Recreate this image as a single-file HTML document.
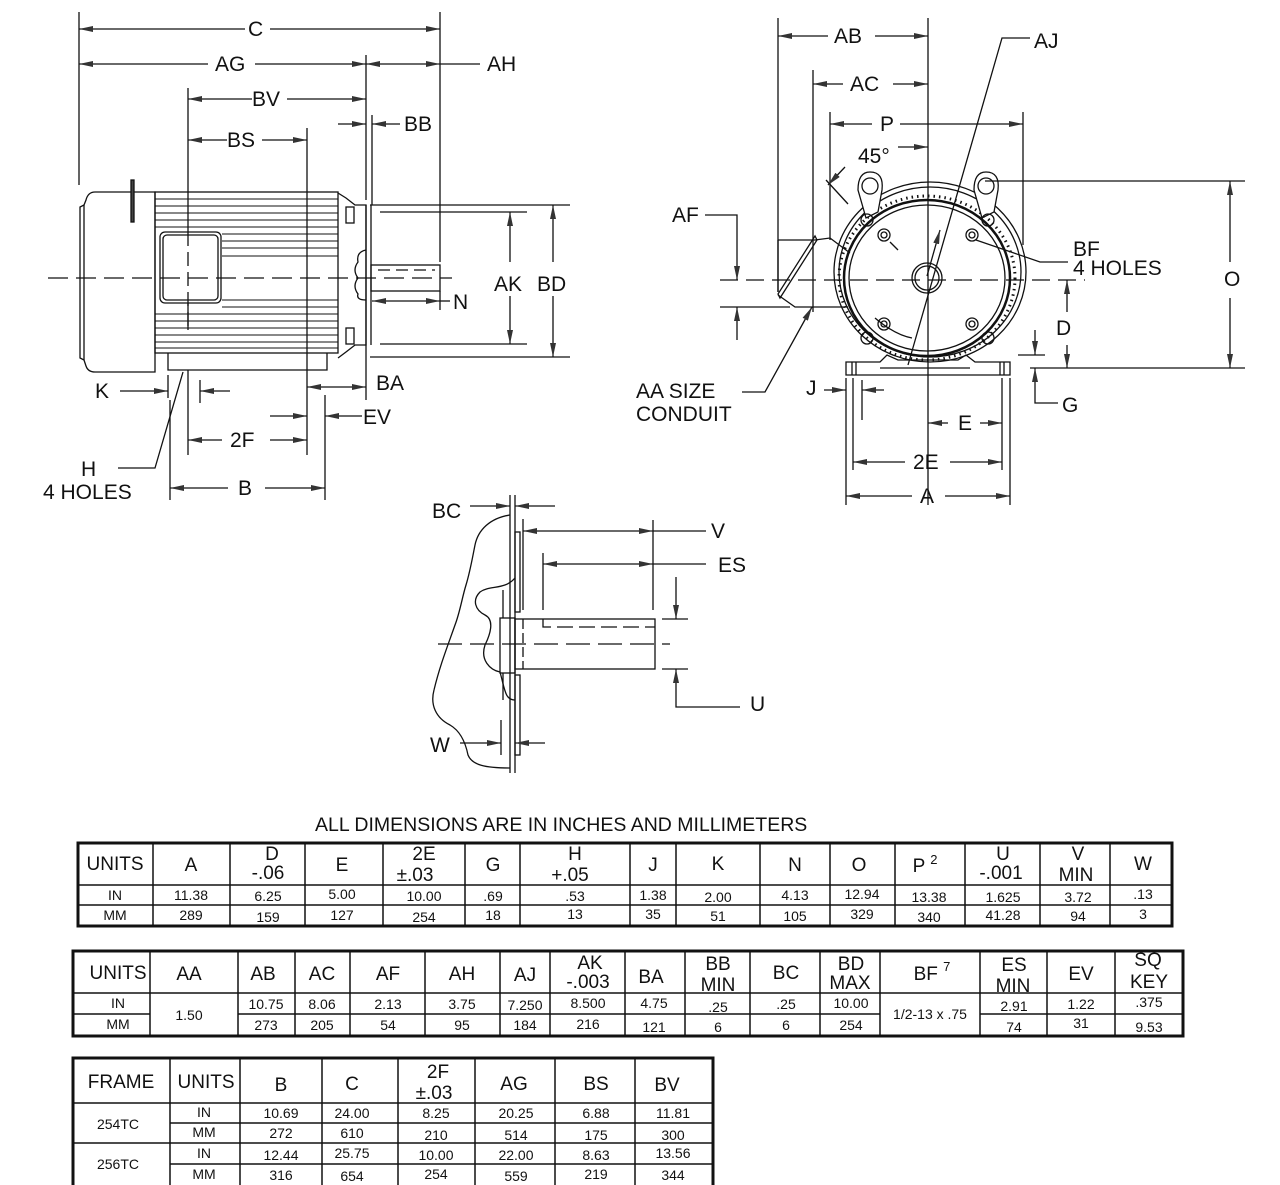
<!DOCTYPE html>
<html><head><meta charset="utf-8"><style>
html,body{margin:0;padding:0;background:#fff}
svg{display:block}
text{font-family:"Liberation Sans",sans-serif;fill:#111}
</style></head><body>
<svg width="1280" height="1185" viewBox="0 0 1280 1185" xmlns="http://www.w3.org/2000/svg">
<defs>
<marker id="ar" viewBox="0 0 14 6" refX="14" refY="3" markerWidth="14" markerHeight="6" markerUnits="userSpaceOnUse" orient="auto-start-reverse">
<path d="M0,0 L14,3 L0,6 Z" fill="#333"/></marker>
</defs>
<g stroke="#111" stroke-width="1.3" fill="none">
<!-- ===== LEFT VIEW ===== -->
<line x1="79" y1="12" x2="79" y2="185"/>
<line x1="440" y1="12" x2="440" y2="262"/>
<line x1="366" y1="55" x2="366" y2="200"/>
<line x1="372" y1="115" x2="372" y2="205"/>
<line x1="188" y1="88" x2="188" y2="330"/>
<line x1="307" y1="128" x2="307" y2="455"/>
<line x1="79" y1="29" x2="245" y2="29" marker-start="url(#ar)"/>
<line x1="270" y1="29" x2="440" y2="29" marker-end="url(#ar)"/>
<line x1="79" y1="64" x2="208" y2="64" marker-start="url(#ar)"/>
<line x1="255" y1="64" x2="366" y2="64" marker-end="url(#ar)"/>
<line x1="366" y1="64" x2="440" y2="64" marker-start="url(#ar)" marker-end="url(#ar)"/>
<line x1="440" y1="64" x2="480" y2="64"/>
<line x1="188" y1="99" x2="252" y2="99" marker-start="url(#ar)"/>
<line x1="287" y1="99" x2="366" y2="99" marker-end="url(#ar)"/>
<line x1="188" y1="140" x2="227" y2="140" marker-start="url(#ar)"/>
<line x1="262" y1="140" x2="307" y2="140" marker-end="url(#ar)"/>
<line x1="338" y1="124" x2="366" y2="124" marker-end="url(#ar)"/>
<line x1="400" y1="124" x2="372" y2="124" marker-end="url(#ar)"/>
<path d="M155,192 L95,192 Q88,192 86,200 L84,205 L80,207 L80,358 L84,360 L86,366 Q88,372 95,372 L155,372 Z"/>
<line x1="84" y1="205" x2="84" y2="360"/>
<rect x="131" y="180" width="3" height="42" fill="#444"/>
<rect x="155" y="192" width="183" height="161"/>
<g stroke-width="1">
<line x1="155" y1="199" x2="338" y2="199"/><line x1="155" y1="206" x2="338" y2="206"/>
<line x1="155" y1="213" x2="338" y2="213"/><line x1="155" y1="220" x2="338" y2="220"/>
<line x1="155" y1="227" x2="338" y2="227"/><line x1="222" y1="234" x2="338" y2="234"/>
<line x1="222" y1="241" x2="338" y2="241"/><line x1="222" y1="248" x2="338" y2="248"/>
<line x1="222" y1="256" x2="338" y2="256"/>
<line x1="222" y1="300" x2="338" y2="300"/><line x1="222" y1="307" x2="338" y2="307"/>
<line x1="155" y1="314" x2="338" y2="314"/><line x1="155" y1="321" x2="338" y2="321"/>
<line x1="155" y1="328" x2="338" y2="328"/><line x1="155" y1="335" x2="338" y2="335"/>
<line x1="155" y1="342" x2="338" y2="342"/><line x1="155" y1="348" x2="338" y2="348"/>
</g>
<rect x="160" y="232" width="61" height="71" rx="5" fill="#fff"/>
<rect x="163" y="235" width="55" height="65" rx="4"/>
<path d="M338,193 L346,198 L355,205 L366,205 L366,345 L355,345 L346,352 L338,358"/>
<rect x="346" y="207" width="8" height="16"/><rect x="346" y="328" width="8" height="16"/>
<path d="M366,250 Q356,252 358,262 Q352,270 358,278 Q352,286 358,294 Q356,300 366,300"/>
<path d="M168,353 L168,370 L327,370 L327,353"/>
<line x1="366" y1="205" x2="366" y2="400"/>
<line x1="371" y1="205" x2="371" y2="345"/>
<rect x="371" y="265" width="69" height="26"/>
<line x1="378" y1="270" x2="435" y2="270" stroke-dasharray="12,6"/>
<line x1="48" y1="278" x2="452" y2="278" stroke-dasharray="20,8"/>
<line x1="188" y1="232" x2="188" y2="330" stroke-dasharray="14,6"/>
<line x1="370" y1="205" x2="570" y2="205"/><line x1="370" y1="357" x2="570" y2="357"/>
<line x1="380" y1="212" x2="527" y2="212"/><line x1="380" y1="344" x2="527" y2="344"/>
<line x1="510" y1="262" x2="510" y2="212" marker-end="url(#ar)"/>
<line x1="510" y1="296" x2="510" y2="344" marker-end="url(#ar)"/>
<line x1="553" y1="262" x2="553" y2="205" marker-end="url(#ar)"/>
<line x1="553" y1="296" x2="553" y2="357" marker-end="url(#ar)"/>
<line x1="372" y1="301" x2="440" y2="301" marker-start="url(#ar)" marker-end="url(#ar)"/>
<line x1="440" y1="291" x2="440" y2="310"/><line x1="440" y1="301" x2="450" y2="301"/>
<line x1="168" y1="375" x2="168" y2="398"/><line x1="200" y1="380" x2="200" y2="403"/>
<line x1="120" y1="391" x2="168" y2="391" marker-end="url(#ar)"/>
<line x1="230" y1="391" x2="200" y2="391" marker-end="url(#ar)"/>
<polyline points="118,468 155,468 183,372" />
<line x1="307" y1="387" x2="366" y2="387" marker-start="url(#ar)" marker-end="url(#ar)"/>
<line x1="325" y1="395" x2="325" y2="500"/>
<line x1="270" y1="416" x2="307" y2="416" marker-end="url(#ar)"/>
<line x1="362" y1="416" x2="325" y2="416" marker-end="url(#ar)"/>
<line x1="188" y1="370" x2="188" y2="455"/>
<line x1="188" y1="440" x2="222" y2="440" marker-start="url(#ar)"/>
<line x1="270" y1="440" x2="307" y2="440" marker-end="url(#ar)"/>
<line x1="170" y1="400" x2="170" y2="500"/>
<line x1="170" y1="488" x2="228" y2="488" marker-start="url(#ar)"/>
<line x1="265" y1="488" x2="325" y2="488" marker-end="url(#ar)"/>

<!-- ===== RIGHT VIEW ===== -->
<line x1="778" y1="18" x2="778" y2="292"/>
<line x1="928" y1="18" x2="928" y2="505"/>
<line x1="813" y1="70" x2="813" y2="312"/>
<line x1="830" y1="112" x2="830" y2="240"/>
<line x1="1023" y1="112" x2="1023" y2="245"/>
<line x1="778" y1="36" x2="828" y2="36" marker-start="url(#ar)"/>
<line x1="875" y1="36" x2="928" y2="36" marker-end="url(#ar)"/>
<line x1="813" y1="84" x2="843" y2="84" marker-start="url(#ar)"/>
<line x1="893" y1="84" x2="928" y2="84" marker-end="url(#ar)"/>
<line x1="830" y1="124" x2="872" y2="124" marker-start="url(#ar)"/>
<line x1="900" y1="124" x2="1023" y2="124" marker-end="url(#ar)"/>
<line x1="898" y1="147" x2="928" y2="147" marker-end="url(#ar)"/>
<line x1="845" y1="167" x2="828" y2="185" marker-end="url(#ar)"/>
<line x1="826" y1="180" x2="848" y2="204"/>
<line x1="720" y1="280" x2="1085" y2="280" stroke-dasharray="18,8"/>
<ellipse cx="930" cy="272" rx="96" ry="90"/>
<ellipse cx="930" cy="272" rx="91" ry="85"/>
<ellipse cx="927" cy="278" rx="83" ry="78" stroke-width="2.5"/>
<ellipse cx="927" cy="278" rx="78" ry="73"/>
<ellipse cx="927" cy="278" rx="88" ry="82" stroke-dasharray="1.5,4" stroke-width="3"/>
<circle cx="927" cy="278" r="15"/><circle cx="927" cy="278" r="12"/>
<path d="M858,190 Q858,172 870,172 Q884,172 882,190 L878,212 L866,218 Z" fill="#fff"/>
<circle cx="870" cy="186" r="8"/>
<path d="M974,190 Q974,172 986,172 Q1000,172 998,190 L994,212 L982,218 Z" fill="#fff"/>
<circle cx="986" cy="186" r="8"/>
<circle cx="867" cy="220" r="6"/><circle cx="988" cy="220" r="6"/>
<circle cx="867" cy="338" r="6"/><circle cx="988" cy="338" r="6"/>
<circle cx="884" cy="235" r="6"/><circle cx="884" cy="235" r="3"/>
<circle cx="972" cy="235" r="6"/><circle cx="972" cy="235" r="3"/>
<circle cx="884" cy="324" r="6"/><circle cx="884" cy="324" r="3"/>
<circle cx="972" cy="324" r="6"/><circle cx="972" cy="324" r="3"/>
<line x1="898" y1="250" x2="890" y2="242"/>
<path d="M875,318 Q895,335 912,338"/>
<path d="M778,240 L815,240 L830,238 L850,253"/>
<line x1="778" y1="240" x2="778" y2="292"/>
<path d="M815,236 L778,294 L780,298 L817,240 Z"/>
<path d="M778,295 L795,307 L848,307"/>
<path d="M846,362 L880,362 L887,355 L898,360 L958,360 L966,355 L975,362 L1010,362 L1010,375 L846,375 Z"/>
<line x1="852" y1="362" x2="852" y2="375"/><line x1="856" y1="362" x2="856" y2="375"/>
<line x1="1000" y1="362" x2="1000" y2="375"/><line x1="1004" y1="362" x2="1004" y2="375"/>
<line x1="880" y1="368" x2="970" y2="368"/>
<polyline points="1030,38 1002,38 908,365"/>
<line x1="940" y1="230" x2="927" y2="276" marker-start="url(#ar)"/>
<polyline points="976,240 1040,262 1068,262"/>
<line x1="985" y1="181" x2="1245" y2="181"/>
<line x1="1030" y1="368" x2="1245" y2="368"/>
<line x1="1230" y1="262" x2="1230" y2="181" marker-end="url(#ar)"/>
<line x1="1230" y1="298" x2="1230" y2="368" marker-end="url(#ar)"/>
<line x1="1067" y1="312" x2="1067" y2="280" marker-end="url(#ar)"/>
<line x1="1067" y1="345" x2="1067" y2="368" marker-end="url(#ar)"/>
<line x1="1018" y1="355" x2="1045" y2="355"/>
<line x1="1035" y1="330" x2="1035" y2="355" marker-end="url(#ar)"/>
<polyline points="1058,403 1035,403 1035,368" marker-end="url(#ar)"/>
<polyline points="705,215 737,215 737,280" marker-end="url(#ar)"/>
<line x1="720" y1="307" x2="790" y2="307"/>
<line x1="737" y1="340" x2="737" y2="307" marker-end="url(#ar)"/>
<polyline points="742,392 765,392 812,307" marker-end="url(#ar)"/>
<line x1="846" y1="378" x2="846" y2="505"/>
<line x1="853" y1="378" x2="853" y2="470"/>
<line x1="862" y1="380" x2="862" y2="420"/>
<line x1="1002" y1="378" x2="1002" y2="470"/>
<line x1="1010" y1="378" x2="1010" y2="505"/>
<line x1="824" y1="390" x2="846" y2="390" marker-end="url(#ar)"/>
<line x1="884" y1="390" x2="862" y2="390" marker-end="url(#ar)"/>
<line x1="928" y1="423" x2="948" y2="423" marker-start="url(#ar)"/>
<line x1="980" y1="423" x2="1002" y2="423" marker-end="url(#ar)"/>
<line x1="853" y1="462" x2="905" y2="462" marker-start="url(#ar)"/>
<line x1="950" y1="462" x2="1002" y2="462" marker-end="url(#ar)"/>
<line x1="846" y1="496" x2="912" y2="496" marker-start="url(#ar)"/>
<line x1="945" y1="496" x2="1010" y2="496" marker-end="url(#ar)"/>

<!-- ===== SHAFT DETAIL ===== -->
<line x1="510" y1="495" x2="510" y2="773"/>
<line x1="515" y1="495" x2="515" y2="773"/>
<line x1="470" y1="506" x2="510" y2="506" marker-end="url(#ar)"/>
<line x1="555" y1="506" x2="515" y2="506" marker-end="url(#ar)"/>
<rect x="515" y="532" width="5" height="80"/>
<rect x="515" y="675" width="5" height="80"/>
<rect x="500" y="618" width="15" height="55"/>
<line x1="503" y1="590" x2="503" y2="618"/><line x1="503" y1="673" x2="503" y2="700"/>
<rect x="515" y="619" width="140" height="50"/>
<line x1="523" y1="519" x2="523" y2="610"/>
<line x1="523" y1="619" x2="523" y2="669" stroke-dasharray="10,4"/>
<path d="M543,619 L543,627 L655,627" stroke-dasharray="16,6"/>
<line x1="438" y1="644" x2="670" y2="644" stroke-dasharray="24,8"/>
<line x1="653" y1="520" x2="653" y2="610"/>
<line x1="543" y1="553" x2="543" y2="610"/>
<line x1="523" y1="531" x2="653" y2="531" marker-start="url(#ar)" marker-end="url(#ar)"/>
<line x1="653" y1="531" x2="706" y2="531"/>
<line x1="543" y1="564" x2="653" y2="564" marker-start="url(#ar)" marker-end="url(#ar)"/>
<line x1="653" y1="564" x2="706" y2="564"/>
<line x1="662" y1="619" x2="688" y2="619"/><line x1="662" y1="669" x2="688" y2="669"/>
<line x1="676" y1="577" x2="676" y2="619" marker-end="url(#ar)"/>
<polyline points="740,707 676,707 676,669" marker-end="url(#ar)"/>
<line x1="460" y1="743" x2="501" y2="743" marker-end="url(#ar)"/>
<line x1="545" y1="743" x2="515" y2="743" marker-end="url(#ar)"/>
<line x1="501" y1="720" x2="501" y2="755"/>
<path d="M510,515 C490,518 478,530 475,545 C472,560 470,572 466,585 C462,598 460,612 455,625 C448,645 440,665 434,690 C430,705 436,718 450,725 C462,732 466,745 468,755 C472,765 485,768 510,768"/>
<path d="M515,578 C505,590 490,585 480,592 C472,600 475,610 485,615 C495,620 490,635 485,645 C480,660 490,670 500,672 C505,690 505,700 515,700"/>
</g>

<g font-size="21">
<text x="248" y="36">C</text>
<text x="215" y="71">AG</text>
<text x="487" y="71">AH</text>
<text x="252" y="106">BV</text>
<text x="227" y="147">BS</text>
<text x="404" y="131">BB</text>
<text x="494" y="291">AK</text>
<text x="537" y="291">BD</text>
<text x="453" y="309">N</text>
<text x="95" y="398">K</text>
<text x="376" y="390">BA</text>
<text x="363" y="424">EV</text>
<text x="230" y="447">2F</text>
<text x="81" y="476">H</text>
<text x="43" y="499">4 HOLES</text>
<text x="238" y="495">B</text>
<text x="834" y="43">AB</text>
<text x="850" y="91">AC</text>
<text x="880" y="131">P</text>
<text x="858" y="163">45°</text>
<text x="1034" y="48">AJ</text>
<text x="672" y="222">AF</text>
<text x="1073" y="256">BF</text>
<text x="1073" y="275">4 HOLES</text>
<text x="1224" y="286">O</text>
<text x="1056" y="335">D</text>
<text x="1062" y="412">G</text>
<text x="636" y="398">AA SIZE</text>
<text x="636" y="421">CONDUIT</text>
<text x="806" y="395">J</text>
<text x="958" y="430">E</text>
<text x="913" y="469">2E</text>
<text x="920" y="503">A</text>
<text x="432" y="518">BC</text>
<text x="711" y="538">V</text>
<text x="718" y="572">ES</text>
<text x="750" y="711">U</text>
<text x="430" y="752">W</text>
</g>

<text x="315" y="831" font-size="19.5">ALL DIMENSIONS ARE IN INCHES AND MILLIMETERS</text>

<!-- ===== TABLE 1 ===== -->
<g stroke="#111" fill="none">
<rect x="78" y="843" width="1094" height="83" stroke-width="3"/>
<line x1="78" y1="885" x2="1172" y2="885" stroke-width="1.5"/>
<line x1="78" y1="905" x2="1172" y2="905" stroke-width="1.5"/>
<g stroke-width="1.5">
<line x1="153" y1="843" x2="153" y2="926"/><line x1="230" y1="843" x2="230" y2="926"/>
<line x1="305" y1="843" x2="305" y2="926"/><line x1="383" y1="843" x2="383" y2="926"/>
<line x1="465" y1="843" x2="465" y2="926"/><line x1="520" y1="843" x2="520" y2="926"/>
<line x1="630" y1="843" x2="630" y2="926"/><line x1="676" y1="843" x2="676" y2="926"/>
<line x1="760" y1="843" x2="760" y2="926"/><line x1="830" y1="843" x2="830" y2="926"/>
<line x1="895" y1="843" x2="895" y2="926"/><line x1="965" y1="843" x2="965" y2="926"/>
<line x1="1040" y1="843" x2="1040" y2="926"/><line x1="1110" y1="843" x2="1110" y2="926"/>
</g>
</g>
<g font-size="19" text-anchor="middle">
<text x="115" y="870">UNITS</text><text x="191" y="871">A</text>
<text x="272" y="860">D</text><text x="268" y="879">-.06</text>
<text x="342" y="871">E</text>
<text x="424" y="860">2E</text><text x="415" y="881">±.03</text>
<text x="493" y="871">G</text>
<text x="575" y="860">H</text><text x="570" y="881">+.05</text>
<text x="653" y="871">J</text><text x="718" y="870">K</text>
<text x="795" y="871">N</text><text x="859" y="871">O</text>
<text x="925" y="872">P <tspan font-size="13" dy="-8">2</tspan></text>
<text x="1003" y="860">U</text><text x="1001" y="879">-.001</text>
<text x="1078" y="860">V</text><text x="1076" y="881">MIN</text>
<text x="1143" y="870">W</text>
</g>
<g font-size="14" text-anchor="middle">
<text x="115" y="900">IN</text><text x="191" y="900">11.38</text><text x="268" y="901">6.25</text>
<text x="342" y="899">5.00</text><text x="424" y="901">10.00</text><text x="493" y="901">.69</text>
<text x="575" y="901">.53</text><text x="653" y="900">1.38</text><text x="718" y="902">2.00</text>
<text x="795" y="900">4.13</text><text x="862" y="899">12.94</text><text x="929" y="902">13.38</text>
<text x="1003" y="902">1.625</text><text x="1078" y="902">3.72</text><text x="1143" y="899">.13</text>
<text x="115" y="920">MM</text><text x="191" y="920">289</text><text x="268" y="922">159</text>
<text x="342" y="920">127</text><text x="424" y="922">254</text><text x="493" y="920">18</text>
<text x="575" y="919">13</text><text x="653" y="919">35</text><text x="718" y="921">51</text>
<text x="795" y="921">105</text><text x="862" y="919">329</text><text x="929" y="922">340</text>
<text x="1003" y="920">41.28</text><text x="1078" y="921">94</text><text x="1143" y="919">3</text>
</g>

<!-- ===== TABLE 2 ===== -->
<g stroke="#111" fill="none">
<rect x="73" y="951" width="1110" height="85" stroke-width="3"/>
<g stroke-width="1.5">
<line x1="73" y1="993" x2="1183" y2="993"/>
<line x1="73" y1="1014" x2="150" y2="1014"/>
<line x1="238" y1="1014" x2="880" y2="1014"/>
<line x1="980" y1="1014" x2="1183" y2="1014"/>
<line x1="150" y1="951" x2="150" y2="1036"/><line x1="238" y1="951" x2="238" y2="1036"/>
<line x1="295" y1="951" x2="295" y2="1036"/><line x1="350" y1="951" x2="350" y2="1036"/>
<line x1="425" y1="951" x2="425" y2="1036"/><line x1="500" y1="951" x2="500" y2="1036"/>
<line x1="550" y1="951" x2="550" y2="1036"/><line x1="625" y1="951" x2="625" y2="1036"/>
<line x1="685" y1="951" x2="685" y2="1036"/><line x1="750" y1="951" x2="750" y2="1036"/>
<line x1="820" y1="951" x2="820" y2="1036"/><line x1="880" y1="951" x2="880" y2="1036"/>
<line x1="980" y1="951" x2="980" y2="1036"/><line x1="1047" y1="951" x2="1047" y2="1036"/>
<line x1="1115" y1="951" x2="1115" y2="1036"/>
</g>
</g>
<g font-size="19" text-anchor="middle">
<text x="118" y="979">UNITS</text><text x="189" y="980">AA</text><text x="263" y="980">AB</text>
<text x="322" y="980">AC</text><text x="388" y="980">AF</text><text x="462" y="980">AH</text>
<text x="525" y="981">AJ</text>
<text x="590" y="969">AK</text><text x="588" y="988">-.003</text>
<text x="651" y="983">BA</text>
<text x="718" y="970">BB</text><text x="718" y="991">MIN</text>
<text x="786" y="979">BC</text>
<text x="851" y="970">BD</text><text x="850" y="989">MAX</text>
<text x="932" y="980">BF <tspan font-size="13" dy="-9">7</tspan></text>
<text x="1014" y="971">ES</text><text x="1013" y="992">MIN</text>
<text x="1081" y="980">EV</text>
<text x="1148" y="966">SQ</text><text x="1149" y="988">KEY</text>
</g>
<g font-size="14" text-anchor="middle">
<text x="118" y="1008">IN</text><text x="118" y="1029">MM</text>
<text x="189" y="1020">1.50</text>
<text x="266" y="1009">10.75</text><text x="322" y="1009">8.06</text><text x="388" y="1009">2.13</text>
<text x="462" y="1009">3.75</text><text x="525" y="1010">7.250</text><text x="588" y="1008">8.500</text>
<text x="654" y="1008">4.75</text><text x="718" y="1012">.25</text><text x="786" y="1009">.25</text>
<text x="851" y="1008">10.00</text><text x="930" y="1019">1/2-13 x .75</text>
<text x="1014" y="1011">2.91</text><text x="1081" y="1009">1.22</text><text x="1149" y="1007">.375</text>
<text x="266" y="1030">273</text><text x="322" y="1030">205</text><text x="388" y="1030">54</text>
<text x="462" y="1030">95</text><text x="525" y="1030">184</text><text x="588" y="1029">216</text>
<text x="654" y="1032">121</text><text x="718" y="1032">6</text><text x="786" y="1030">6</text>
<text x="851" y="1030">254</text><text x="1014" y="1032">74</text><text x="1081" y="1028">31</text>
<text x="1149" y="1032">9.53</text>
</g>

<!-- ===== TABLE 3 ===== -->
<g stroke="#111" fill="none">
<path d="M73,1185 L73,1058 L713,1058 L713,1185" stroke-width="3"/>
<g stroke-width="1.5">
<line x1="73" y1="1103" x2="713" y2="1103"/>
<line x1="170" y1="1123" x2="713" y2="1123"/>
<line x1="73" y1="1143" x2="713" y2="1143"/>
<line x1="170" y1="1164" x2="713" y2="1164"/>
<line x1="170" y1="1058" x2="170" y2="1185"/><line x1="240" y1="1058" x2="240" y2="1185"/>
<line x1="322" y1="1058" x2="322" y2="1185"/><line x1="398" y1="1058" x2="398" y2="1185"/>
<line x1="475" y1="1058" x2="475" y2="1185"/><line x1="555" y1="1058" x2="555" y2="1185"/>
<line x1="635" y1="1058" x2="635" y2="1185"/>
</g>
</g>
<g font-size="19" text-anchor="middle">
<text x="121" y="1088">FRAME</text><text x="206" y="1088">UNITS</text>
<text x="281" y="1091">B</text><text x="352" y="1090">C</text>
<text x="438" y="1078">2F</text><text x="434" y="1099">±.03</text>
<text x="514" y="1090">AG</text><text x="596" y="1090">BS</text><text x="667" y="1091">BV</text>
</g>
<g font-size="14" text-anchor="middle">
<text x="118" y="1129">254TC</text><text x="118" y="1169">256TC</text>
<text x="204" y="1117">IN</text><text x="204" y="1137">MM</text>
<text x="204" y="1158">IN</text><text x="204" y="1179">MM</text>
<text x="281" y="1118">10.69</text><text x="352" y="1118">24.00</text><text x="436" y="1118">8.25</text>
<text x="516" y="1118">20.25</text><text x="596" y="1118">6.88</text><text x="673" y="1118">11.81</text>
<text x="281" y="1138">272</text><text x="352" y="1138">610</text><text x="436" y="1140">210</text>
<text x="516" y="1140">514</text><text x="596" y="1140">175</text><text x="673" y="1140">300</text>
<text x="281" y="1160">12.44</text><text x="352" y="1158">25.75</text><text x="436" y="1160">10.00</text>
<text x="516" y="1160">22.00</text><text x="596" y="1160">8.63</text><text x="673" y="1158">13.56</text>
<text x="281" y="1180">316</text><text x="352" y="1181">654</text><text x="436" y="1179">254</text>
<text x="516" y="1181">559</text><text x="596" y="1179">219</text><text x="673" y="1180">344</text>
</g>
</svg>
</body></html>
